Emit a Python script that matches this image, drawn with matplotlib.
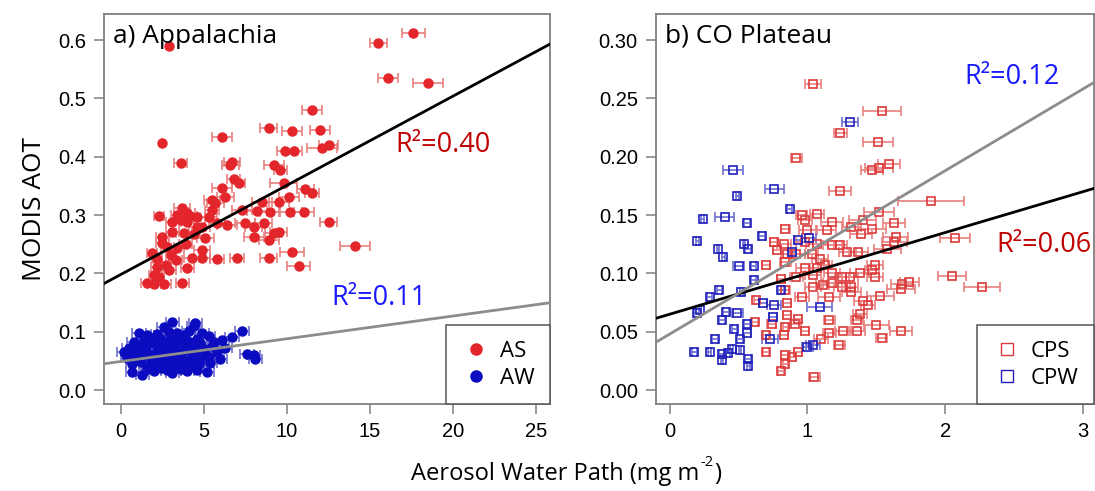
import numpy as np
import matplotlib.pyplot as plt

# (AWP, AOT, AWP error) per site-day
AS = [(17.6, 0.612, 0.7), (15.5, 0.595, 0.5), (16.1, 0.535, 0.6), (18.5, 0.527, 0.9),
      (2.5, 0.424, 0.0), (2.9, 0.589, 0.0), (11.5, 0.480, 0.6), (8.9, 0.450, 0.5),
      (10.3, 0.444, 0.6), (12.0, 0.446, 0.6), (6.1, 0.434, 0.6), (9.9, 0.410, 0.5),
      (10.4, 0.410, 0.5), (12.1, 0.415, 0.9), (12.5, 0.420, 0.6), (3.6, 0.389, 0.4),
      (6.7, 0.391, 0.5), (6.6, 0.386, 0.5), (9.2, 0.386, 0.6), (9.6, 0.377, 0.4),
      (6.8, 0.362, 0.4), (7.1, 0.355, 0.4), (9.8, 0.355, 0.8), (6.1, 0.347, 0.6),
      (11.1, 0.345, 0.5), (11.5, 0.338, 0.4), (6.3, 0.331, 0.5), (10.1, 0.331, 0.6),
      (5.5, 0.326, 0.5), (5.7, 0.320, 0.5), (8.5, 0.323, 0.6), (9.5, 0.323, 0.6),
      (5.5, 0.309, 0.4), (7.3, 0.309, 0.6), (8.2, 0.307, 0.6), (9.0, 0.305, 0.6),
      (10.2, 0.305, 0.7), (11.0, 0.305, 0.6), (2.3, 0.298, 0.3), (3.7, 0.312, 0.5),
      (4.0, 0.304, 0.5), (4.2, 0.298, 0.4), (3.4, 0.300, 0.4), (4.6, 0.296, 0.5),
      (12.5, 0.288, 0.5), (3.1, 0.288, 0.4), (3.6, 0.292, 0.4), (4.0, 0.288, 0.4),
      (4.6, 0.280, 0.5), (4.9, 0.280, 0.5), (5.8, 0.286, 0.5), (6.4, 0.283, 0.6),
      (7.5, 0.286, 0.6), (8.0, 0.280, 0.5), (8.6, 0.286, 0.5), (9.2, 0.269, 0.5),
      (9.5, 0.271, 0.5), (2.5, 0.262, 0.4), (3.1, 0.271, 0.4), (3.8, 0.269, 0.5),
      (5.1, 0.260, 0.5), (8.0, 0.262, 0.6), (8.9, 0.257, 0.6), (2.5, 0.252, 0.4),
      (2.8, 0.245, 0.4), (3.4, 0.243, 0.4), (4.9, 0.240, 0.5), (14.1, 0.247, 0.9),
      (10.3, 0.237, 0.7), (1.9, 0.235, 0.3), (3.3, 0.223, 0.4), (4.3, 0.226, 0.5),
      (4.9, 0.226, 0.5), (5.8, 0.225, 0.4), (7.0, 0.226, 0.4), (8.9, 0.226, 0.5),
      (10.7, 0.213, 0.7), (2.2, 0.211, 0.4), (2.9, 0.206, 0.4), (4.0, 0.209, 0.4),
      (2.0, 0.197, 0.3), (2.3, 0.194, 0.3), (1.6, 0.184, 0.4), (2.0, 0.181, 0.4),
      (2.6, 0.181, 0.4), (3.7, 0.184, 0.4), (2.7, 0.215, 0.3), (3.0, 0.232, 0.3),
      (3.9, 0.250, 0.4), (4.4, 0.268, 0.4), (5.3, 0.296, 0.5), (2.2, 0.224, 0.3)]

AW = [(3.1, 0.117), (4.5, 0.115), (4.4, 0.110), (2.6, 0.108),
      (1.1, 0.098), (1.6, 0.094), (2.2, 0.096), (2.9, 0.100), (3.4, 0.097), (3.8, 0.094),
      (4.1, 0.101), (4.9, 0.098), (5.3, 0.092), (6.7, 0.091), (7.3, 0.101), (2.0, 0.090),
      (3.0, 0.089), (4.6, 0.088),
      (0.8, 0.082), (1.4, 0.085), (1.9, 0.083), (2.4, 0.087), (2.8, 0.081), (3.3, 0.084),
      (3.7, 0.086), (4.2, 0.082), (4.8, 0.080), (5.6, 0.083), (6.1, 0.085),
      (0.5, 0.072), (1.0, 0.076), (1.5, 0.074), (2.1, 0.078), (2.5, 0.073), (2.9, 0.077),
      (3.4, 0.071), (3.9, 0.075), (4.4, 0.073), (5.0, 0.070), (5.5, 0.076), (6.3, 0.072),
      (0.2, 0.065), (0.6, 0.062), (1.1, 0.067), (1.6, 0.064), (2.0, 0.061), (2.4, 0.068),
      (2.8, 0.063), (3.2, 0.066), (3.6, 0.061), (4.0, 0.069), (4.5, 0.064), (5.1, 0.062),
      (5.8, 0.066), (8.0, 0.060), (7.6, 0.062),
      (0.4, 0.055), (0.9, 0.052), (1.3, 0.058), (1.8, 0.054), (2.2, 0.051), (2.6, 0.057),
      (3.0, 0.053), (3.5, 0.056), (3.9, 0.050), (4.3, 0.055), (4.8, 0.052), (5.3, 0.057),
      (6.0, 0.054), (8.1, 0.053),
      (0.7, 0.045), (1.2, 0.048), (1.7, 0.042), (2.1, 0.046), (2.5, 0.041), (2.9, 0.047),
      (3.3, 0.043), (3.8, 0.046), (4.2, 0.041), (4.7, 0.044), (5.4, 0.047),
      (0.7, 0.031), (1.3, 0.026), (1.6, 0.036), (2.0, 0.033), (2.4, 0.038), (2.8, 0.034),
      (3.1, 0.030), (3.6, 0.037), (4.0, 0.032), (4.6, 0.035), (5.2, 0.031)]
AW_err = 0.4

CPS = [(1.04, 0.262, 0.06), (1.54, 0.239, 0.14), (1.24, 0.220, 0.05), (1.51, 0.213, 0.11),
       (0.92, 0.199, 0.04), (1.59, 0.194, 0.08), (1.52, 0.190, 0.10), (1.47, 0.189, 0.08),
       (1.24, 0.171, 0.08), (1.90, 0.162, 0.24), (1.52, 0.153, 0.11), (0.96, 0.150, 0.04),
       (1.07, 0.151, 0.05), (1.18, 0.144, 0.08), (1.40, 0.146, 0.10), (1.63, 0.143, 0.08),
       (0.98, 0.146, 0.05), (0.84, 0.138, 0.03), (1.00, 0.137, 0.06), (1.14, 0.137, 0.07),
       (1.32, 0.140, 0.07), (1.47, 0.138, 0.10), (1.39, 0.134, 0.08), (1.64, 0.131, 0.09),
       (2.07, 0.130, 0.11), (0.76, 0.127, 0.03), (0.83, 0.125, 0.05), (0.98, 0.127, 0.06),
       (1.07, 0.125, 0.08), (1.18, 0.124, 0.07), (1.24, 0.124, 0.05), (1.29, 0.118, 0.06),
       (1.37, 0.118, 0.07), (1.58, 0.121, 0.10), (1.63, 0.127, 0.09), (0.78, 0.120, 0.03),
       (0.85, 0.117, 0.04), (0.92, 0.117, 0.06), (1.03, 0.117, 0.05), (1.09, 0.112, 0.06),
       (0.70, 0.107, 0.03), (0.84, 0.110, 0.04), (0.98, 0.105, 0.06), (1.07, 0.105, 0.05),
       (1.13, 0.107, 0.05), (1.49, 0.107, 0.06), (1.47, 0.103, 0.05), (0.81, 0.095, 0.03),
       (0.92, 0.097, 0.05), (1.04, 0.099, 0.06), (1.18, 0.100, 0.06), (1.25, 0.097, 0.05),
       (1.31, 0.097, 0.06), (1.38, 0.100, 0.07), (1.49, 0.097, 0.06), (2.05, 0.098, 0.10),
       (1.04, 0.088, 0.06), (1.11, 0.090, 0.05), (1.18, 0.092, 0.07), (1.25, 0.088, 0.06),
       (1.32, 0.088, 0.05), (1.69, 0.091, 0.08), (1.74, 0.093, 0.07), (1.68, 0.087, 0.10),
       (2.27, 0.088, 0.13), (0.84, 0.086, 0.03), (0.96, 0.080, 0.05), (1.16, 0.080, 0.08),
       (1.32, 0.084, 0.07), (1.53, 0.081, 0.10), (1.40, 0.076, 0.06), (1.44, 0.073, 0.05),
       (0.63, 0.077, 0.02), (0.85, 0.075, 0.03), (0.62, 0.058, 0.02), (0.74, 0.057, 0.03),
       (0.85, 0.064, 0.03), (0.93, 0.061, 0.03), (1.16, 0.060, 0.04), (1.38, 0.065, 0.05),
       (1.36, 0.060, 0.04), (0.84, 0.054, 0.02), (0.91, 0.057, 0.04), (0.98, 0.051, 0.03),
       (1.16, 0.049, 0.05), (1.26, 0.051, 0.06), (1.36, 0.051, 0.06), (1.50, 0.056, 0.09),
       (1.68, 0.051, 0.08), (0.70, 0.047, 0.02), (0.83, 0.047, 0.03), (1.10, 0.044, 0.05),
       (1.54, 0.045, 0.04), (1.23, 0.039, 0.04), (0.70, 0.033, 0.02), (0.84, 0.030, 0.03),
       (0.89, 0.028, 0.03), (0.93, 0.033, 0.03), (0.84, 0.022, 0.02), (0.81, 0.016, 0.02),
       (1.05, 0.011, 0.04)]

CPW = [(1.31, 0.230, 0.06), (0.46, 0.189, 0.07), (0.76, 0.172, 0.07), (0.49, 0.166, 0.01),
       (0.87, 0.155, 0.02), (0.24, 0.147, 0.01), (0.40, 0.148, 0.07), (0.56, 0.143, 0.02),
       (0.67, 0.132, 0.02), (0.20, 0.128, 0.01), (0.54, 0.125, 0.01), (0.57, 0.121, 0.02),
       (0.35, 0.121, 0.01), (0.39, 0.114, 0.01), (0.93, 0.129, 0.03), (1.01, 0.130, 0.05),
       (0.89, 0.118, 0.03), (0.50, 0.106, 0.04), (0.61, 0.106, 0.02), (0.61, 0.094, 0.02),
       (0.81, 0.086, 0.02), (0.36, 0.086, 0.02), (0.52, 0.084, 0.01), (0.29, 0.080, 0.02),
       (0.68, 0.075, 0.03), (0.76, 0.073, 0.05), (1.09, 0.071, 0.09), (0.22, 0.069, 0.01),
       (0.20, 0.066, 0.02), (0.41, 0.067, 0.02), (0.49, 0.066, 0.04), (0.38, 0.060, 0.02),
       (0.75, 0.063, 0.03), (0.56, 0.057, 0.02), (0.47, 0.052, 0.02), (0.56, 0.049, 0.03),
       (0.33, 0.044, 0.02), (0.51, 0.044, 0.02), (0.73, 0.044, 0.06), (1.04, 0.039, 0.05),
       (1.00, 0.037, 0.04), (0.18, 0.033, 0.02), (0.29, 0.033, 0.01), (0.38, 0.031, 0.02),
       (0.42, 0.032, 0.02), (0.45, 0.035, 0.01), (0.51, 0.034, 0.01), (0.38, 0.026, 0.01),
       (0.57, 0.027, 0.02), (0.57, 0.021, 0.01)]

# regression lines (intercept, slope)
fit_AS = (0.198, 0.0153)
fit_AW = (0.049, 0.0039)
fit_CPS = (0.065, 0.0350)
fit_CPW = (0.048, 0.0700)

RED = '#e3262b'
RED_ERR = '#e88080'
BLUE = '#0b0bc0'
BLUE_ERR = '#7070d0'
TXT_RED = '#c00000'
TXT_BLUE = '#1a1aff'

LBL = 'Open Sans'
TICK = 'Liberation Sans'

fig = plt.figure(figsize=(10.95, 4.91), dpi=100)
ax1 = fig.add_axes([0.095, 0.177, 0.407, 0.795])
ax2 = fig.add_axes([0.599, 0.177, 0.40, 0.795])


def style(ax):
    for sp in ax.spines.values():
        sp.set_color('#7f7f7f')
        sp.set_linewidth(1.3)
    ax.tick_params(direction='out', length=7, width=1.1, color='#7f7f7f',
                   labelsize=14.5, pad=6)
    for lab in ax.get_xticklabels() + ax.get_yticklabels():
        lab.set_fontfamily(TICK)


def legend(ax, handles):
    lg = ax.legend(handles=handles, loc='lower right', prop={'family': LBL, 'size': 16},
                   fancybox=False, framealpha=1, edgecolor='#555555', borderaxespad=0,
                   handletextpad=0.4, handlelength=1.3, borderpad=0.7, labelspacing=0.25)
    lg.get_frame().set_linewidth(1.1)


# a) Appalachia
a = np.array(AS)
w = np.array(AW)
ax1.errorbar(a[:, 0], a[:, 1], xerr=a[:, 2], fmt='none', ecolor=RED_ERR,
             elinewidth=1.2, capsize=3.5, capthick=1.2, zorder=2)
ax1.plot(a[:, 0], a[:, 1], 'o', color=RED, ms=6.5, mec=RED, zorder=3)
ax1.errorbar(w[:, 0], w[:, 1], xerr=AW_err, fmt='none', ecolor=BLUE_ERR,
             elinewidth=1.2, capsize=3.5, capthick=1.2, zorder=2)
ax1.plot(w[:, 0], w[:, 1], 'o', color=BLUE, ms=6.5, mec=BLUE, zorder=3)

xl = np.array([-1, 25.8])
ax1.plot(xl, fit_AS[0] + fit_AS[1] * xl, color='black', lw=2, zorder=4)
ax1.plot(xl, fit_AW[0] + fit_AW[1] * xl, color='#8c8c8c', lw=2, zorder=4)

ax1.set_xlim(-1, 25.8)
ax1.set_ylim(-0.024, 0.645)
ax1.set_xticks([0, 5, 10, 15, 20, 25])
ax1.set_yticks([0.0, 0.1, 0.2, 0.3, 0.4, 0.5, 0.6])
ax1.set_yticklabels(['0.0', '0.1', '0.2', '0.3', '0.4', '0.5', '0.6'])
style(ax1)
ax1.text(0.02, 0.975, 'a) Appalachia', transform=ax1.transAxes, ha='left', va='top',
         fontsize=19, family=LBL, zorder=5)
ax1.text(16.5, 0.42, 'R²=0.40', color=TXT_RED, fontsize=19.5, family=LBL, va='center')
ax1.text(12.7, 0.158, 'R²=0.11', color=TXT_BLUE, fontsize=19.5, family=LBL, va='center')
h1 = ax1.plot([], [], 'o', color=RED, ms=8, label='AS')[0]
h2 = ax1.plot([], [], 'o', color=BLUE, ms=8, label='AW')[0]
legend(ax1, [h1, h2])
ax1.set_ylabel('MODIS AOT', fontsize=19, family=LBL, labelpad=8)

# b) CO Plateau
s = np.array(CPS)
c = np.array(CPW)
ax2.errorbar(s[:, 0], s[:, 1], xerr=s[:, 2], fmt='none', ecolor=RED_ERR,
             elinewidth=1.2, capsize=3.5, capthick=1.2, zorder=2)
ax2.plot(s[:, 0], s[:, 1], 's', mfc='none', mec='#dd3b3b', ms=5.5, mew=1.2, zorder=3)
ax2.errorbar(c[:, 0], c[:, 1], xerr=c[:, 2], fmt='none', ecolor=BLUE_ERR,
             elinewidth=1.2, capsize=3.5, capthick=1.2, zorder=2)
ax2.plot(c[:, 0], c[:, 1], 's', mfc='none', mec='#1f1fbb', ms=5.5, mew=1.2, zorder=3)

xl = np.array([-0.1, 3.1])
ax2.plot(xl, fit_CPS[0] + fit_CPS[1] * xl, color='black', lw=2, zorder=4)
ax2.plot(xl, fit_CPW[0] + fit_CPW[1] * xl, color='#8c8c8c', lw=2, zorder=4)

ax2.set_xlim(-0.1, 3.08)
ax2.set_ylim(-0.012, 0.3225)
ax2.set_xticks([0, 1, 2, 3])
ax2.set_yticks([0.0, 0.05, 0.10, 0.15, 0.20, 0.25, 0.30])
ax2.set_yticklabels(['0.00', '0.05', '0.10', '0.15', '0.20', '0.25', '0.30'])
style(ax2)
ax2.text(0.02, 0.975, 'b) CO Plateau', transform=ax2.transAxes, ha='left', va='top',
         fontsize=19, family=LBL)
ax2.text(2.14, 0.268, 'R²=0.12', color=TXT_BLUE, fontsize=19.5, family=LBL, va='center')
ax2.text(2.37, 0.124, 'R²=0.06', color=TXT_RED, fontsize=19.5, family=LBL, va='center')
h3 = ax2.plot([], [], 's', mfc='none', mec='#dd3b3b', ms=8, label='CPS')[0]
h4 = ax2.plot([], [], 's', mfc='none', mec='#1f1fbb', ms=8, label='CPW')[0]
legend(ax2, [h3, h4])

# shared x label with a small hyphen superscript
r = fig.canvas.get_renderer()
t1 = fig.text(0.375, 0.035, 'Aerosol Water Path (mg m', ha='left', va='center',
              fontsize=17, family=LBL)
bb = t1.get_window_extent(r)
x1 = bb.x1 / fig.bbox.width
t2 = fig.text(x1 + 0.001, 0.058, '-2', ha='left', va='center', fontsize=10.5, family=LBL)
bb2 = t2.get_window_extent(r)
fig.text(bb2.x1 / fig.bbox.width + 0.001, 0.035, ')', ha='left', va='center',
         fontsize=17, family=LBL)

fig.savefig('out.png', dpi=100)
